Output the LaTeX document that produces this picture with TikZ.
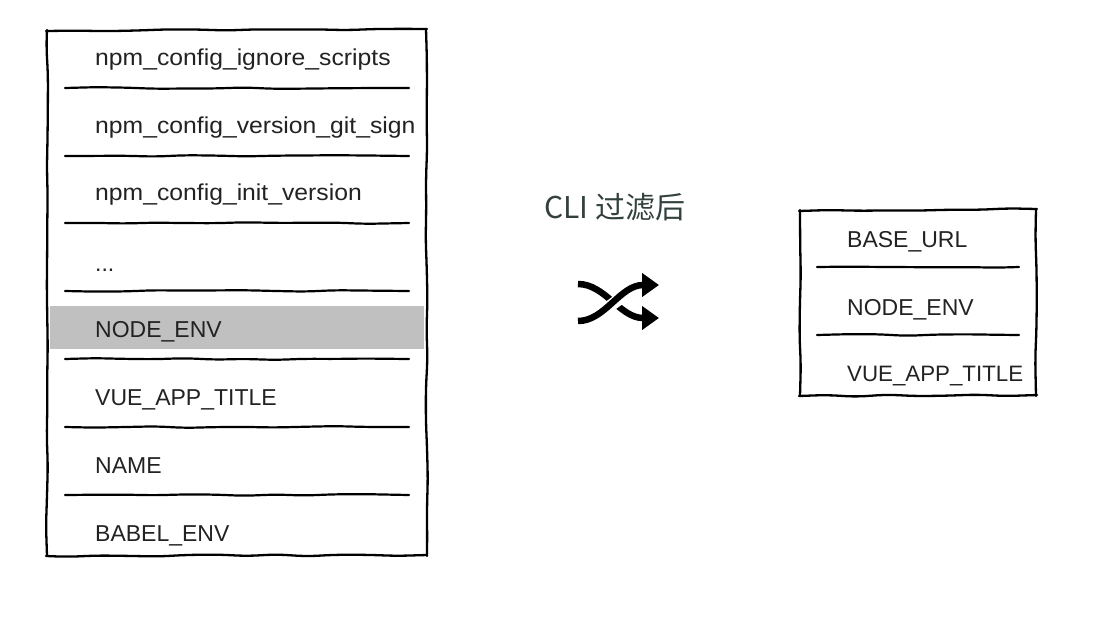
\documentclass[tikz,border=0pt]{standalone}
\usepackage{fontspec}
\setmainfont{Liberation Sans}
\newfontfamily\widefont[FakeStretch=1.075]{Liberation Sans}
\newfontfamily\cjk{Noto Sans CJK SC}
\usetikzlibrary{decorations.pathmorphing,arrows.meta}
\definecolor{textgray}{RGB}{34,34,34}
\definecolor{titlecol}{RGB}{50,64,62}
\definecolor{bandgray}{RGB}{192,192,192}
\begin{document}
\begin{tikzpicture}[x=1pt,y=-1pt,
  edge/.style={line width=2.3pt, line cap=round, decorate,
    decoration={random steps,segment length=30pt,amplitude=1.0pt}, rounded corners=10pt},
  sepline/.style={line width=2.2pt, line cap=round, decorate,
    decoration={random steps,segment length=30pt,amplitude=0.9pt}, rounded corners=10pt},
  item/.style={anchor=base west, inner sep=0pt, text=textgray,
    font=\fontsize{23}{27}\selectfont},
  witem/.style={item, font=\widefont\fontsize{23}{27}\selectfont},
  shuf/.style={line width=6.5pt, -{Triangle[length=17pt,width=23pt]}},
]
\pgfmathsetseed{7}
\useasboundingbox (0,0) rectangle (1094,622);

% left box
\fill[bandgray] (50,306) rectangle (424,349);
\draw[edge] (46,31) -- (427,29);
\draw[edge] (426,29) -- (427,556);
\draw[edge] (427,555) -- (46,556);
\draw[edge] (47,556) -- (47,30);
\foreach \y in {88,156,223,291,359,427,495}
  \draw[sepline] (65,\y) -- (409,\y);
\node[witem] (l1) at (95,65) {npm\_config\_ignore\_scripts};
\node[witem] (l2) at (95,133) {npm\_config\_version\_git\_sign};
\node[witem] (l3) at (95,200) {npm\_config\_init\_version};
\node[item] (l4) at (95,271) {...};
\node[item] (l5) at (95,337) {NODE\_ENV};
\node[item] (l6) at (95,405) {VUE\_APP\_TITLE};
\node[item] (l7) at (95,473) {NAME};
\node[item] (l8) at (95,541) {BABEL\_ENV};

% right box
\draw[edge] (799,211) -- (1037,209);
\draw[edge] (1036,209) -- (1036,396);
\draw[edge] (1037,395) -- (799,396);
\draw[edge] (800,396) -- (800,210);
\foreach \y in {267,335}
  \draw[sepline] (817,\y) -- (1019,\y);
\node[item] (r1) at (847,247) {BASE\_URL};
\node[item] (r2) at (847,315) {NODE\_ENV};
\node[item, font=\fontsize{22.3}{27}\selectfont] (r3) at (847,381) {VUE\_APP\_TITLE};

% title
\node[anchor=base, inner sep=0pt, text=titlecol, font=\cjk\fontsize{30}{34}\selectfont]
  (title) at (615,218) {CLI 过滤后};

% shuffle icon
\coordinate (a1) at (578,284);
\coordinate (a2) at (659,318);
\coordinate (b1) at (578,321);
\coordinate (b2) at (659,285);
\draw[shuf] (a1) .. controls (605,284) and (620,318) .. (a2);
\draw[shuf, preaction={draw=white, line width=12pt, -}] (b1) .. controls (605,321) and (620,285) .. (b2);
\end{tikzpicture}
\end{document}
